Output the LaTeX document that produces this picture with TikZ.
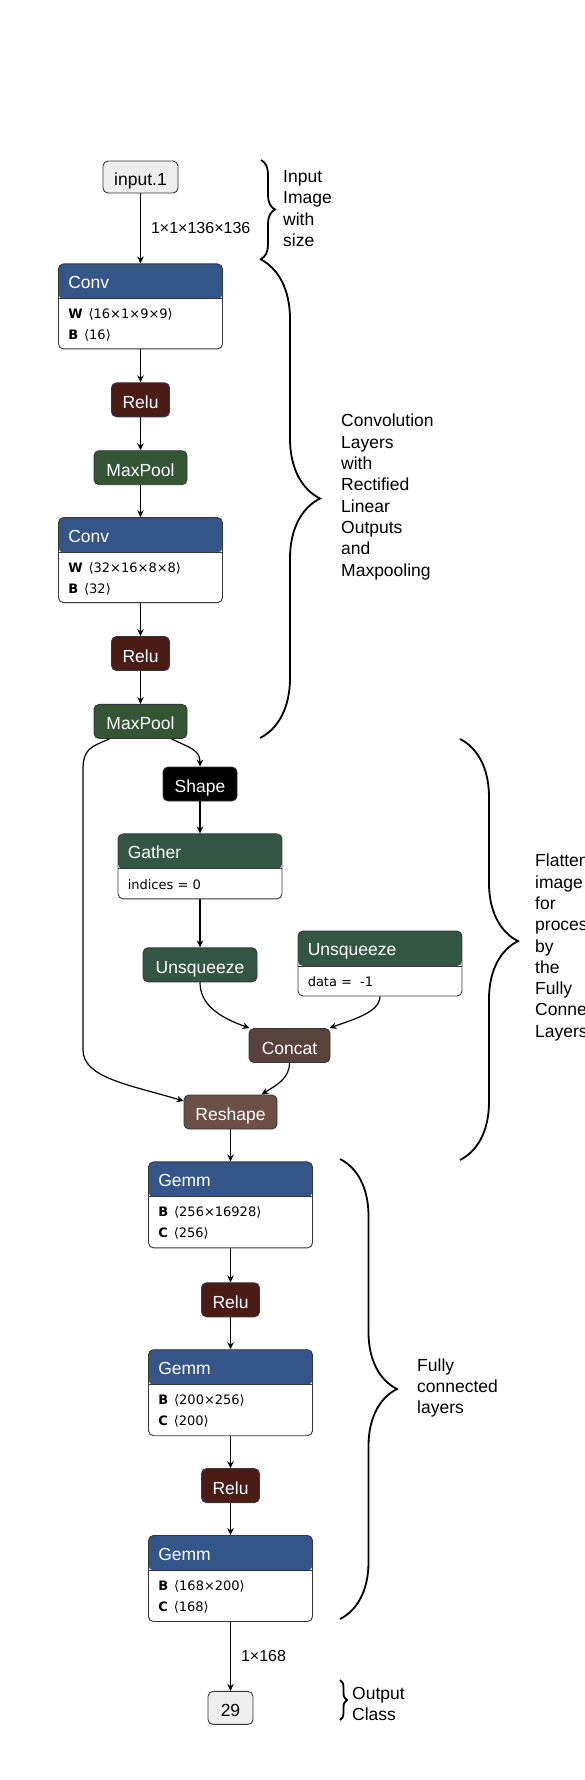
\documentclass[tikz,border=0pt]{standalone}
\usepackage{fontspec}
\setmainfont{Liberation Sans}
\newfontfamily\attrfont{DejaVu Sans}
\usetikzlibrary{arrows.meta, positioning, decorations.pathreplacing}
\definecolor{layerblue}{HTML}{335588}
\definecolor{actred}{HTML}{4B1B16}
\definecolor{poolgreen}{HTML}{335533}
\definecolor{transgreen}{HTML}{335544}
\definecolor{tensorbrown}{HTML}{59423B}
\definecolor{shapebrown}{HTML}{6C4F47}
\definecolor{iogray}{HTML}{EEEEEE}
\definecolor{edgegray}{HTML}{363636}
\newcommand{\tdim}[1]{\hspace{6pt}⟨#1⟩}
\tikzset{
  opnode/.style={rectangle, draw=edgegray, line width=0.9pt, fill=#1, rounded corners=5pt,
                 text=white, minimum height=34pt, inner sep=0pt, text height=17pt, text depth=0pt,
                 font=\fontsize{17.5}{20}\selectfont},
  iobox/.style={opnode=iogray, text=black, minimum height=32pt},
  layerbox/.style={rectangle, draw=edgegray, line width=0.9pt, fill=white, rounded corners=5pt,
                   minimum width=164pt, inner sep=0pt,
                   path picture={
                     \fill[#1] (path picture bounding box.north west) rectangle ([yshift=-35pt]path picture bounding box.north east);
                     \draw[edgegray, line width=0.9pt] ([yshift=-35pt]path picture bounding box.north west) -- ([yshift=-35pt]path picture bounding box.north east);}},
  optitle/.style={anchor=base west, text=white, inner sep=0pt, font=\fontsize{17.5}{20}\selectfont},
  attrtext/.style={anchor=base west, inner sep=0pt, font=\attrfont\fontsize{13}{15}\selectfont},
  arrow/.style={-{Stealth[length=7pt, width=6.5pt]}, line width=1.2pt},
  dimlabel/.style={inner sep=0pt, font=\fontsize{16}{18}\selectfont},
  note/.style={anchor=west, align=left, inner sep=0pt, font=\fontsize{17.5}{21.3}\selectfont},
  bracket/.style={decorate, decoration={brace, amplitude=#1}, line width=1.8pt},
}

\begin{document}
\begin{tikzpicture}[x=1pt, y=-1pt]
  \useasboundingbox (0,0) rectangle (584,1780);
  \fill[white] (0,0) rectangle (584,1780);
  \clip (0,0) rectangle (584,1780);

  % Input and convolution stack
  \node[iobox, minimum width=75pt] (input) at (140.5,177) {input.1};
  \node[layerbox=layerblue, minimum height=85pt, below=70pt of input] (conv1) {};
  \node[optitle] (conv1t) at ([xshift=10pt, yshift=-25pt]conv1.north west) {Conv};
  \node[attrtext] (conv1w) at ([xshift=10pt, yshift=-55.5pt]conv1.north west) {\textbf{W}\tdim{16×1×9×9}};
  \node[attrtext] (conv1b) at ([xshift=10pt, yshift=-76pt]conv1.north west) {\textbf{B}\tdim{16}};
  \node[opnode=actred, minimum width=58pt, below=33pt of conv1] (relu1) {Relu};
  \node[opnode=poolgreen, minimum width=93pt, below=33pt of relu1] (pool1) {MaxPool};
  \node[layerbox=layerblue, minimum height=85pt, below=32pt of pool1] (conv2) {};
  \node[optitle] (conv2t) at ([xshift=10pt, yshift=-25pt]conv2.north west) {Conv};
  \node[attrtext] (conv2w) at ([xshift=10pt, yshift=-55.5pt]conv2.north west) {\textbf{W}\tdim{32×16×8×8}};
  \node[attrtext] (conv2b) at ([xshift=10pt, yshift=-76pt]conv2.north west) {\textbf{B}\tdim{32}};
  \node[opnode=actred, minimum width=58pt, below=33pt of conv2] (relu2) {Relu};
  \node[opnode=poolgreen, minimum width=93pt, below=33pt of relu2] (pool2) {MaxPool};

  \draw[arrow] (input) -- node[right=10pt, dimlabel]{1×1×136×136} (conv1);
  \draw[arrow] (conv1) -- (relu1);
  \draw[arrow] (relu1) -- (pool1);
  \draw[arrow] (pool1) -- (conv2);
  \draw[arrow] (conv2) -- (relu2);
  \draw[arrow] (relu2) -- (pool2);

  % Flatten branch
  \node[opnode=black, minimum width=74pt] (shape) at (200,784) {Shape};
  \node[layerbox=transgreen, minimum height=65pt, below=32pt of shape] (gather) {};
  \node[optitle] (gathert) at ([xshift=10pt, yshift=-25pt]gather.north west) {Gather};
  \node[attrtext] (gatheri) at ([xshift=10pt, yshift=-56pt]gather.north west) {indices = 0};
  \node[opnode=transgreen, minimum width=114pt, below=48pt of gather] (unsq1) {Unsqueeze};
  \node[layerbox=transgreen, minimum height=65pt] (unsq2) at (380,963.5) {};
  \node[optitle] (unsq2t) at ([xshift=10pt, yshift=-25pt]unsq2.north west) {Unsqueeze};
  \node[attrtext] (unsq2d) at ([xshift=10pt, yshift=-56pt]unsq2.north west) {data =\hspace{4pt} -1};
  \node[opnode=tensorbrown, minimum width=81pt] (concat) at (289.5,1045.5) {Concat};
  \node[opnode=shapebrown, minimum width=93pt] (reshape) at (230.5,1112) {Reshape};

  \coordinate (skiptop) at (83,770);
  \coordinate (skipbot) at (83,1050);
  \draw[arrow] ([xshift=-31pt]pool2.south) .. controls +(-18,8) and +(0,-22) .. (skiptop)
    -- (skipbot) .. controls +(0,28) and +(-53,-16) .. ([yshift=11pt]reshape.west);
  \draw[arrow] ([xshift=31pt]pool2.south) .. controls +(18,9) and +(0,-17) .. (shape.north);
  \draw[arrow] (shape) -- (gather);
  \draw[arrow] (gather) -- (unsq1);
  \draw[arrow] (unsq1.south) .. controls +(0,22) and +(-31,-11) .. ([xshift=1pt]concat.north west);
  \draw[arrow] (unsq2.south) .. controls +(0,16) and +(22,-8) .. ([xshift=-1pt]concat.north east);
  \draw[arrow] (concat.south) .. controls +(0,16) and +(14,-9) .. ([xshift=31pt]reshape.north);

  % Fully connected stack
  \node[layerbox=layerblue, minimum height=86pt, below=32pt of reshape] (gemm1) {};
  \node[optitle] (gemm1t) at ([xshift=10pt, yshift=-25pt]gemm1.north west) {Gemm};
  \node[attrtext] (gemm1b) at ([xshift=10pt, yshift=-55.5pt]gemm1.north west) {\textbf{B}\tdim{256×16928}};
  \node[attrtext] (gemm1c) at ([xshift=10pt, yshift=-76pt]gemm1.north west) {\textbf{C}\tdim{256}};
  \node[opnode=actred, minimum width=58pt, below=34pt of gemm1] (relu3) {Relu};
  \node[layerbox=layerblue, minimum height=86pt, below=32pt of relu3] (gemm2) {};
  \node[optitle] (gemm2t) at ([xshift=10pt, yshift=-25pt]gemm2.north west) {Gemm};
  \node[attrtext] (gemm2b) at ([xshift=10pt, yshift=-55.5pt]gemm2.north west) {\textbf{B}\tdim{200×256}};
  \node[attrtext] (gemm2c) at ([xshift=10pt, yshift=-76pt]gemm2.north west) {\textbf{C}\tdim{200}};
  \node[opnode=actred, minimum width=58pt, below=32pt of gemm2] (relu4) {Relu};
  \node[layerbox=layerblue, minimum height=86pt, below=32pt of relu4] (gemm3) {};
  \node[optitle] (gemm3t) at ([xshift=10pt, yshift=-25pt]gemm3.north west) {Gemm};
  \node[attrtext] (gemm3b) at ([xshift=10pt, yshift=-55.5pt]gemm3.north west) {\textbf{B}\tdim{168×200}};
  \node[attrtext] (gemm3c) at ([xshift=10pt, yshift=-76pt]gemm3.north west) {\textbf{C}\tdim{168}};
  \node[iobox, minimum width=45pt, minimum height=33pt, below=69pt of gemm3] (out) {29};

  \draw[arrow] (reshape) -- (gemm1);
  \draw[arrow] (gemm1) -- (relu3);
  \draw[arrow] (relu3) -- (gemm2);
  \draw[arrow] (gemm2) -- (relu4);
  \draw[arrow] (relu4) -- (gemm3);
  \draw[arrow] (gemm3) -- node[right=10pt, dimlabel]{1×168} (out);

  % Braces and notes
  \draw[bracket=14pt] (261,160) -- (261,259);
  \draw[bracket=60pt] (260,259) -- (260,738);
  \draw[bracket=58pt, decoration={aspect=0.48}] (460,739) -- (460,1160);
  \draw[bracket=57pt] (340,1159) -- (340,1619);
  \draw[bracket=7pt] (340,1680) -- (340,1720);
  \node[note] (inputnote) at (283,208.5) {Input\\Image\\with\\size};
  \node[note] (convnote) at (341,497) {Convolution\\Layers\\with\\Rectified\\Linear\\Outputs\\and\\Maxpooling};
  \node[note] (flatnote) at (535,947.5) {Flatten\\image\\for\\processing\\by\\the\\Fully\\Connected\\Layers};
  \node[note] (fcnote) at (417,1388) {Fully\\connected\\layers};
  \node[note] (outnote) at (352,1704) {Output\\Class};
\end{tikzpicture}
\end{document}
